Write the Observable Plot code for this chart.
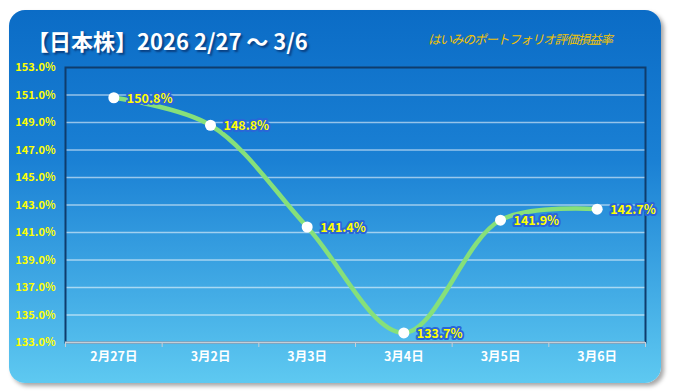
<!DOCTYPE html>
<html><head><meta charset="utf-8">
<script src="https://cdn.jsdelivr.net/npm/d3@7"></script>
<script src="https://cdn.jsdelivr.net/npm/@observablehq/plot@0.6"></script>
<style>
body{margin:0;background:#fff;font-family:"Noto Sans CJK JP","Noto Sans",sans-serif;}
#wrap{position:relative;width:674px;height:392px;overflow:hidden;}
#card{position:absolute;left:9px;top:10px;width:652px;height:373px;border-radius:16px;
 background:linear-gradient(to bottom,#0b6cc6 0%,#1a80d4 40%,#5ec9f1 100%);
 box-shadow:3px 3px 4px rgba(0,0,0,0.35);}
#title{position:absolute;left:27px;top:24px;color:#fff;font-weight:bold;font-size:22px;white-space:nowrap;
 text-shadow:2px 2px 2px rgba(0,0,40,0.45);letter-spacing:0px;}
#sub{position:absolute;left:428px;top:29px;color:#f2c200;font-style:italic;font-size:12.5px;white-space:nowrap;letter-spacing:-1px;}
#chart{position:absolute;left:0;top:0;}
</style></head>
<body><div id="wrap"><div id="card"></div>
<div id="title">【日本株】2026 2/27 ～ 3/6</div>
<div id="sub">はいみのポートフォリオ評価損益率</div>
<div id="chart"></div></div>
<script>
const dates = ["2月27日","3月2日","3月3日","3月4日","3月5日","3月6日"];
const values = [150.8,148.8,141.4,133.7,141.9,142.7];
const yTicks = [133,135,137,139,141,143,145,147,149,151,153];

const data = dates.map((d,i)=>({i, date:d, value:values[i]}));
const bounds = d3.range(-0.5, dates.length, 1);
const font = '"Noto Sans CJK JP","Noto Sans",sans-serif';

const chart = Plot.plot({
  width:674, height:392,
  marginLeft:65, marginRight:29, marginTop:67, marginBottom:50,
  style:{background:"transparent", fontFamily:font, overflow:"visible"},
  x:{type:"linear", domain:[-0.5, dates.length-0.5]},
  y:{domain:[133,153]},
  marks:[
    Plot.gridY(yTicks.slice(1,-1), {stroke:"#ffffff", strokeOpacity:0.55, strokeWidth:1.3}),
    Plot.frame({stroke:"#0f3c6c", strokeWidth:2}),
    Plot.ruleY([133], {stroke:"#c6ced6", strokeWidth:2}),
    Plot.axisY(yTicks, {tickSize:0, tickPadding:10, tickFormat:d=>d.toFixed(1)+"%", fill:"#ffff00", fontWeight:"bold", fontSize:11, label:null}),
    Plot.axisX(bounds, {tickSize:5, stroke:"#c6ced6", tickFormat:()=>"", label:null}),
    Plot.axisX(d3.range(dates.length), {tickSize:0, tickPadding:10, tickFormat:i=>dates[i], fill:"#ffffff", fontWeight:"bold", fontSize:12.5, label:null}),
    Plot.line(data, {x:"i", y:"value", curve:"catmull-rom", stroke:"#86e07a", strokeWidth:4.5}),
    Plot.dot(data, {x:"i", y:"value", r:5.5, fill:"#ffffff"}),
    Plot.text(data, {x:"i", y:"value", text:d=>d.value.toFixed(1)+"%", dx:13, dy:1, textAnchor:"start",
      fill:"#ffff00", stroke:"#2a66d8", strokeWidth:4, fontWeight:"bold", fontSize:12.5})
  ]
});
document.getElementById("chart").appendChild(chart);
</script></body></html>
